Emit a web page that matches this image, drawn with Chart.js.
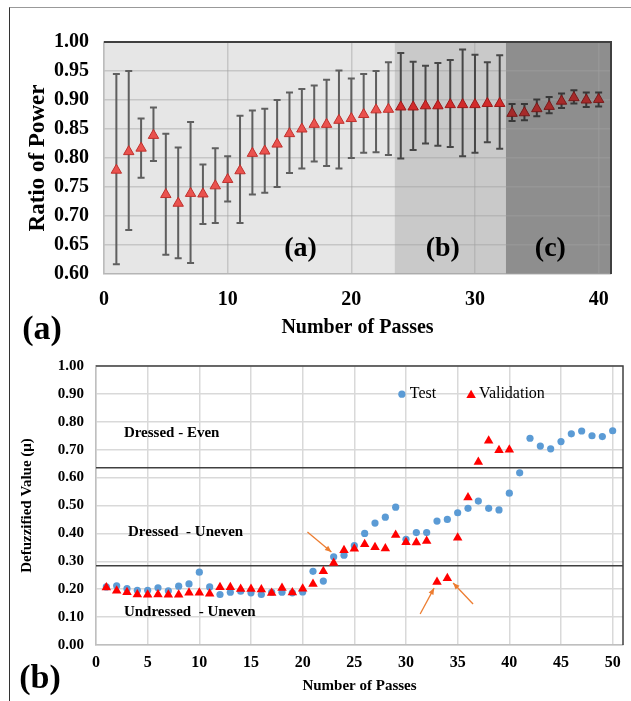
<!DOCTYPE html>
<html>
<head>
<meta charset="utf-8">
<script src="https://cdn.jsdelivr.net/npm/chart.js@4.4.1/dist/chart.umd.min.js"></script>
<style>
  html, body { margin: 0; padding: 0; background: #fff; }
  #wrap { position: relative; width: 631px; height: 701px; overflow: hidden; }
  #frame { position: absolute; left: 9px; top: 7px; width: 660px; height: 720px;
           border-left: 1.5px solid #333; border-top: 1px solid #999; }
  canvas { position: absolute; left: 0; }
  #chartA { top: 0; }
  #chartB { top: 345px; }
  .tag { position: absolute; transform: translate(-50%, -50%);
         font: bold 34px "Liberation Serif", "Times New Roman", serif; color: #000; }
</style>
</head>
<body>
<div id="wrap">
  <div id="frame"></div>
  <canvas id="chartA" width="631" height="345"></canvas>
  <canvas id="chartB" width="631" height="356"></canvas>
  <div class="tag" style="left:42px; top:328px">(a)</div>
  <div class="tag" style="left:40px; top:677px">(b)</div>
</div>
<script>
const SERIF = '"Liberation Serif", "Times New Roman", serif';

// ---- panel (a): ratio of power ----
const passesA = [1, 2, 3, 4, 5, 6, 7, 8, 9, 10, 11, 12, 13, 14, 15, 16, 17, 18, 19, 20,
                 21, 22, 23, 24, 25, 26, 27, 28, 29, 30, 31, 32, 33, 34, 35, 36, 37, 38, 39, 40];
const meanA = [0.779, 0.811, 0.817, 0.839, 0.737, 0.722, 0.739, 0.738, 0.752, 0.763,
               0.778, 0.808, 0.812, 0.824, 0.842, 0.850, 0.858, 0.858, 0.865, 0.868,
               0.875, 0.883, 0.884, 0.888, 0.888, 0.890, 0.890, 0.892, 0.892, 0.892,
               0.894, 0.894, 0.877, 0.878, 0.885, 0.889, 0.898, 0.904, 0.900, 0.901];
const upperA = [0.945, 0.950, 0.868, 0.887, 0.842, 0.818, 0.862, 0.789, 0.817, 0.803,
                0.873, 0.882, 0.885, 0.900, 0.913, 0.919, 0.925, 0.935, 0.951, 0.937,
                0.945, 0.950, 0.965, 0.981, 0.966, 0.959, 0.964, 0.969, 0.987, 0.978,
                0.965, 0.977, 0.893, 0.893, 0.901, 0.905, 0.911, 0.917, 0.913, 0.913];
const lowerA = [0.617, 0.676, 0.766, 0.795, 0.633, 0.627, 0.619, 0.686, 0.688, 0.725,
                0.688, 0.737, 0.740, 0.750, 0.774, 0.782, 0.794, 0.786, 0.782, 0.800,
                0.809, 0.810, 0.805, 0.799, 0.814, 0.825, 0.821, 0.819, 0.803, 0.809,
                0.827, 0.816, 0.864, 0.865, 0.872, 0.877, 0.886, 0.894, 0.888, 0.889];
const xTicksA = [0, 10, 20, 30, 40];
const yTicksA = [0.60, 0.65, 0.70, 0.75, 0.80, 0.85, 0.90, 0.95, 1.00];
const zoneEdges = [0, 23.5, 32.5, 41];
const zoneNames = ['(a)', '(b)', '(c)'];
const zoneNameX = [15.9, 27.4, 36.1];

// ---- panel (b): defuzzified value ----
const passesTest = [1, 2, 3, 4, 5, 6, 7, 8, 9, 10, 11, 12, 13, 14, 15, 16, 17, 18, 19, 20,
                    21, 22, 23, 24, 25, 26, 27, 28, 29, 30, 31, 32, 33, 34, 35, 36, 37, 38, 39, 40,
                    41, 42, 43, 44, 45, 46, 47, 48, 49, 50];
const testB = [0.208, 0.212, 0.202, 0.196, 0.196, 0.205, 0.194, 0.211, 0.219, 0.261,
               0.208, 0.181, 0.189, 0.193, 0.187, 0.181, 0.189, 0.189, 0.187, 0.190,
               0.264, 0.229, 0.316, 0.322, 0.356, 0.400, 0.437, 0.458, 0.494, 0.379,
               0.403, 0.403, 0.444, 0.450, 0.474, 0.490, 0.516, 0.490, 0.484, 0.544,
               0.617, 0.741, 0.713, 0.703, 0.729, 0.757, 0.767, 0.750, 0.747, 0.768];
const passesVal = [1, 2, 3, 4, 5, 6, 7, 8, 9, 10, 11, 12, 13, 14, 15, 16, 17, 18, 19, 20,
                   21, 22, 23, 24, 25, 26, 27, 28, 29, 30, 31, 32, 33, 34, 35, 36, 37, 38, 39, 40];
const valB = [0.206, 0.194, 0.189, 0.181, 0.180, 0.181, 0.180, 0.180, 0.187, 0.187,
              0.184, 0.207, 0.207, 0.201, 0.201, 0.199, 0.186, 0.204, 0.188, 0.202,
              0.219, 0.264, 0.294, 0.340, 0.345, 0.361, 0.350, 0.346, 0.394, 0.368,
              0.367, 0.373, 0.226, 0.239, 0.384, 0.529, 0.656, 0.732, 0.698, 0.700];
const thresholds = [0.635, 0.284];
const xTicksB = [0, 5, 10, 15, 20, 25, 30, 35, 40, 45, 50];
const yTicksB = [0.0, 0.1, 0.2, 0.3, 0.4, 0.5, 0.6, 0.7, 0.8, 0.9, 1.0];
const classNames = ['Dressed - Even', 'Dressed  - Uneven', 'Undressed  - Uneven'];
const classAt = [[2.7, 0.76], [3.1, 0.405], [2.7, 0.118]];
// arrows in data units: [fromX, fromY, toX, toY]
const arrowsB = [[20.46, 0.405, 22.78, 0.333], [31.37, 0.111, 32.72, 0.204], [36.49, 0.147, 34.56, 0.222]];

// styles
const zoneFill = ['#e6e6e6', '#c9c9c9', '#8e8e8e'];
const markFill = ['#ea524e', '#d22b2b', '#a62a2a'];
const markEdge = ['#c0302c', '#9e1818', '#771a1a'];
const barColor = ['#5f5f5f', '#474747', '#383838'];
const gridA = 'rgba(160,160,160,0.45)';
const gridB = '#d9d9d9';

function zoneOf(x) {
    for (let i = 0; i < zoneEdges.length - 1; i++) {
        if (x < zoneEdges[i + 1]) return i;
    }
    return zoneEdges.length - 2;
}

function font(size, weight) {
    return { family: SERIF, size: size, weight: weight || 'bold' };
}

Chart.defaults.color = '#000';

const zonePlugin = {
    id: 'zones',
    beforeDraw(chart) {
        const { ctx, chartArea: a, scales: { x } } = chart;
        ctx.save();
        for (let i = 0; i < zoneEdges.length - 1; i++) {
            const x0 = x.getPixelForValue(zoneEdges[i]);
            const x1 = x.getPixelForValue(zoneEdges[i + 1]);
            ctx.fillStyle = zoneFill[i];
            ctx.fillRect(x0, a.top, x1 - x0, a.bottom - a.top);
        }
        ctx.restore();
    },
    // error bars go under the triangles
    beforeDatasetsDraw(chart) {
        const { ctx, scales: { x, y } } = chart;
        ctx.save();
        ctx.lineWidth = 2;
        passesA.forEach((p, i) => {
            const px = x.getPixelForValue(p);
            const top = y.getPixelForValue(upperA[i]);
            const bot = y.getPixelForValue(lowerA[i]);
            ctx.strokeStyle = barColor[zoneOf(p)];
            ctx.beginPath();
            ctx.moveTo(px, top); ctx.lineTo(px, bot);
            ctx.moveTo(px - 3.5, top); ctx.lineTo(px + 3.5, top);
            ctx.moveTo(px - 3.5, bot); ctx.lineTo(px + 3.5, bot);
            ctx.stroke();
        });
        ctx.restore();
    },
    afterDraw(chart) {
        const { ctx, chartArea: a, scales: { x, y } } = chart;
        ctx.save();
        ctx.strokeStyle = '#404040';
        ctx.lineWidth = 2;
        ctx.beginPath();
        ctx.moveTo(a.left, a.top); ctx.lineTo(a.right, a.top); ctx.lineTo(a.right, a.bottom);
        ctx.stroke();
        ctx.fillStyle = '#000';
        ctx.font = 'bold 28px ' + SERIF;
        ctx.textAlign = 'center';
        ctx.textBaseline = 'middle';
        zoneNames.forEach((t, i) => {
            ctx.fillText(t, x.getPixelForValue(zoneNameX[i]), y.getPixelForValue(0.643));
        });
        ctx.restore();
    }
};

new Chart(document.getElementById('chartA'), {
    type: 'scatter',
    data: {
        datasets: [{
            data: passesA.map((p, i) => ({ x: p, y: meanA[i] })),
            pointStyle: 'triangle',
            pointRadius: 6,
            borderWidth: 1,
            backgroundColor: c => markFill[c.raw ? zoneOf(c.raw.x) : 0],
            borderColor: c => markEdge[c.raw ? zoneOf(c.raw.x) : 0]
        }]
    },
    options: {
        responsive: false,
        animation: false,
        layout: { padding: { top: 42, right: 20, left: 0, bottom: 0 } },
        plugins: { legend: { display: false }, tooltip: { enabled: false } },
        scales: {
            x: {
                type: 'linear', min: 0, max: 41,
                afterBuildTicks: s => { s.ticks = xTicksA.map(v => ({ value: v })); },
                afterFit: s => { s.height = 71; },
                grid: { color: gridA, lineWidth: 1.5, drawTicks: false },
                border: { color: gridA, width: 1.5 },
                ticks: { font: font(20), padding: 14, maxRotation: 0 },
                title: { display: true, text: 'Number of Passes', font: font(20), padding: { top: 0, bottom: 5 } }
            },
            y: {
                min: 0.6, max: 1.0,
                afterBuildTicks: s => { s.ticks = yTicksA.map(v => ({ value: v })); },
                afterFit: s => { s.width = 104; },
                grid: { color: gridA, lineWidth: 1.5, drawTicks: false },
                border: { color: gridA, width: 1.5 },
                ticks: { font: font(20), padding: 15, callback: v => v.toFixed(2) },
                title: { display: true, text: 'Ratio of Power', font: font(23), padding: { top: 24, bottom: 0 } }
            }
        }
    },
    plugins: [zonePlugin]
});

function drawTriangle(ctx, cx, cy, r) {
    ctx.beginPath();
    ctx.moveTo(cx, cy - r);
    ctx.lineTo(cx + r * 0.866, cy + r / 2);
    ctx.lineTo(cx - r * 0.866, cy + r / 2);
    ctx.closePath();
    ctx.fill();
}

const notesPlugin = {
    id: 'notes',
    afterDraw(chart) {
        const { ctx, chartArea: a, scales: { x, y } } = chart;
        ctx.save();
        // plot frame, top and right
        ctx.strokeStyle = '#404040';
        ctx.lineWidth = 1.5;
        ctx.beginPath();
        ctx.moveTo(a.left, a.top); ctx.lineTo(a.right, a.top); ctx.lineTo(a.right, a.bottom);
        ctx.stroke();

        // class names
        ctx.fillStyle = '#000';
        ctx.font = 'bold 15px ' + SERIF;
        ctx.textAlign = 'left';
        ctx.textBaseline = 'middle';
        classNames.forEach((t, i) => {
            ctx.fillText(t, x.getPixelForValue(classAt[i][0]), y.getPixelForValue(classAt[i][1]));
        });

        // legend
        const ly = y.getPixelForValue(0.899);
        const cx = x.getPixelForValue(29.6);
        const tx = x.getPixelForValue(36.3);
        ctx.fillStyle = '#5b9bd5';
        ctx.beginPath(); ctx.arc(cx, ly, 3.6, 0, Math.PI * 2); ctx.fill();
        ctx.fillStyle = '#ff0000';
        drawTriangle(ctx, tx, ly + 1, 5.5);
        ctx.fillStyle = '#000';
        ctx.font = '16px ' + SERIF;
        ctx.fillText('Test', cx + 8, ly);
        ctx.fillText('Validation', tx + 8, ly);

        // orange arrows
        ctx.strokeStyle = '#ed7d31';
        ctx.fillStyle = '#ed7d31';
        ctx.lineWidth = 1.3;
        arrowsB.forEach(([x0, y0, x1, y1]) => {
            const ax = x.getPixelForValue(x0), ay = y.getPixelForValue(y0);
            const bx = x.getPixelForValue(x1), by = y.getPixelForValue(y1);
            const ang = Math.atan2(by - ay, bx - ax);
            ctx.beginPath(); ctx.moveTo(ax, ay); ctx.lineTo(bx, by); ctx.stroke();
            ctx.beginPath();
            ctx.moveTo(bx, by);
            ctx.lineTo(bx - 7 * Math.cos(ang - 0.4), by - 7 * Math.sin(ang - 0.4));
            ctx.lineTo(bx - 7 * Math.cos(ang + 0.4), by - 7 * Math.sin(ang + 0.4));
            ctx.closePath();
            ctx.fill();
        });
        ctx.restore();
    }
};

new Chart(document.getElementById('chartB'), {
    type: 'scatter',
    data: {
        datasets: [
            {
                label: 'Validation',
                data: passesVal.map((p, i) => ({ x: p, y: valB[i] })),
                pointStyle: 'triangle', pointRadius: 5.5, borderWidth: 0,
                backgroundColor: '#ff0000', order: 1
            },
            {
                label: 'Test',
                data: passesTest.map((p, i) => ({ x: p, y: testB[i] })),
                pointStyle: 'circle', pointRadius: 3.6, borderWidth: 0,
                backgroundColor: '#5b9bd5', order: 2
            },
            ...thresholds.map(t => ({
                type: 'line',
                data: [{ x: 0, y: t }, { x: 51, y: t }],
                borderColor: '#404040', borderWidth: 1.5, pointRadius: 0, order: 3
            }))
        ]
    },
    options: {
        responsive: false,
        animation: false,
        layout: { padding: { top: 21, right: 8, left: 0, bottom: 0 } },
        plugins: { legend: { display: false }, tooltip: { enabled: false } },
        scales: {
            x: {
                type: 'linear', min: 0, max: 51,
                afterBuildTicks: s => { s.ticks = xTicksB.map(v => ({ value: v })); },
                afterFit: s => { s.height = 56; },
                grid: { color: gridB, lineWidth: 1.5, drawTicks: false },
                border: { color: '#bfbfbf', width: 1.5 },
                ticks: { font: font(16), padding: 8, maxRotation: 0 },
                title: { display: true, text: 'Number of Passes', font: font(15), padding: { top: 0, bottom: 6 } }
            },
            y: {
                min: 0, max: 1,
                afterBuildTicks: s => { s.ticks = yTicksB.map(v => ({ value: v })); },
                afterFit: s => { s.width = 96; },
                grid: { color: gridB, lineWidth: 1.5, drawTicks: false },
                border: { color: '#bfbfbf', width: 1.5 },
                ticks: { font: font(15), padding: 12, callback: v => v.toFixed(2) },
                title: { display: true, text: 'Defuzzified Value (μ)', font: font(15), padding: { top: 18, bottom: 0 } }
            }
        }
    },
    plugins: [notesPlugin]
});
</script>
</body>
</html>
